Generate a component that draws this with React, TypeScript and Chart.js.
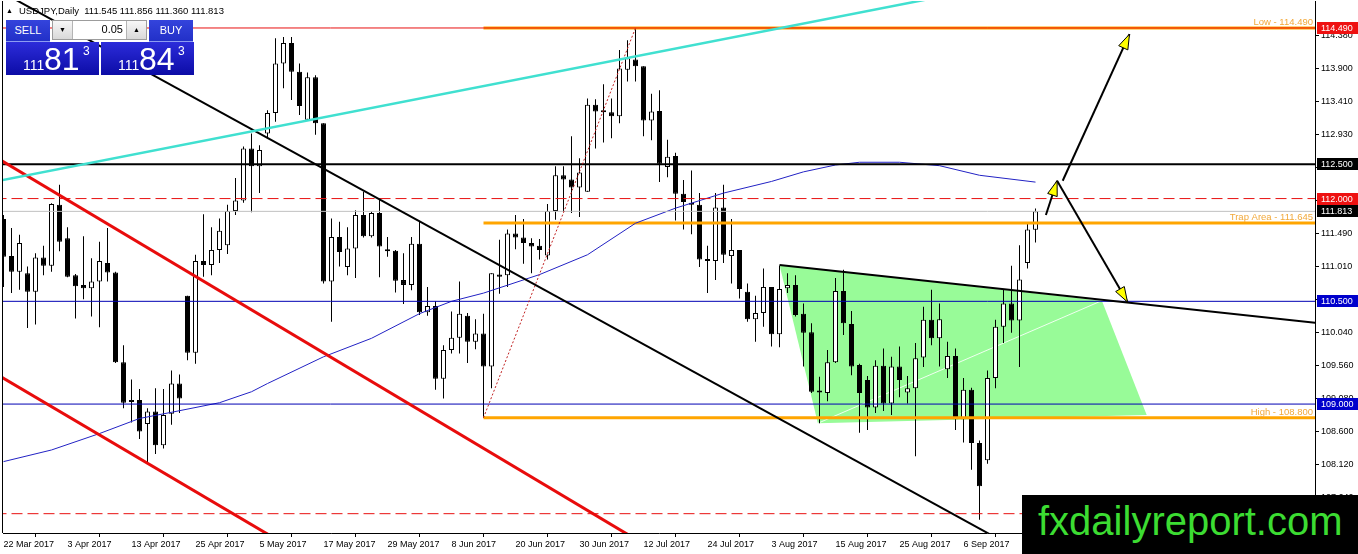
import { useEffect, useRef } from "react";
import { Chart, registerables } from "chart.js";

Chart.register(...registerables);

// daily USDJPY candles, 22 Mar 2017 .. 19 Sep 2017
const candleOpen = [
  111.70, 111.16, 110.93, 110.91, 110.64, 111.14, 111.02, 111.91, 111.42, 110.88,
  110.74, 110.69, 110.79, 111.06, 110.92, 109.61, 109.03, 109.06, 108.71, 108.89,
  108.40, 108.86, 109.30, 110.58, 109.75, 111.09, 111.03, 111.25, 111.32, 111.82,
  111.97, 112.73, 112.47, 112.95, 113.25, 113.97, 114.27, 113.85, 113.15, 113.77,
  113.10, 110.79, 111.44, 111.00, 111.27, 111.76, 111.45, 111.79, 111.25, 111.24,
  110.81, 110.74, 111.34, 110.34, 110.43, 109.37, 109.79, 109.97, 110.29, 109.91,
  110.03, 109.55, 110.89, 110.88, 111.49, 111.43, 111.35, 111.31, 111.17, 111.82,
  112.34, 112.28, 112.16, 112.10, 113.37, 113.28, 113.26, 113.20, 113.88, 114.03,
  113.93, 113.14, 113.28, 112.46, 112.62, 112.07, 111.94, 111.91, 111.11, 111.09,
  111.87, 111.16, 111.25, 110.64, 110.24, 110.33, 110.71, 110.02, 110.69, 110.74,
  110.32, 110.05, 109.18, 109.16, 109.61, 110.65, 110.17, 109.57, 109.35, 108.95,
  109.56, 109.01, 109.55, 109.17, 109.23, 109.68, 110.23, 109.96, 109.51, 109.70,
  108.78, 109.21, 108.43, 108.18, 109.38, 110.13, 110.47, 110.22, 111.06, 111.545,
];
const candleHigh = [
  111.76, 111.57, 111.47, 111.01, 111.20, 111.31, 111.93, 112.20, 111.58, 110.90,
  111.45, 111.13, 111.37, 111.57, 110.93, 109.86, 109.36, 109.22, 108.94, 109.23,
  109.22, 109.49, 109.43, 110.58, 111.18, 111.77, 111.58, 111.71, 111.91, 112.30,
  112.76, 112.95, 112.78, 113.29, 114.34, 114.36, 114.36, 113.97, 113.84, 113.80,
  113.10, 111.71, 111.66, 111.58, 111.83, 112.10, 111.81, 112.00, 111.44, 111.25,
  111.20, 111.44, 111.66, 110.71, 110.50, 109.86, 110.35, 110.79, 110.33, 110.24,
  110.32, 110.91, 111.40, 111.55, 111.76, 111.70, 111.42, 111.41, 111.92, 112.47,
  112.47, 112.91, 112.59, 113.46, 113.45, 113.67, 113.46, 114.17, 114.31, 114.49,
  113.93, 113.53, 113.58, 112.86, 112.67, 112.27, 112.41, 112.08, 111.31, 112.08,
  112.20, 111.70, 111.25, 110.76, 110.58, 110.98, 110.71, 111.02, 110.91, 110.88,
  110.47, 110.18, 109.40, 109.79, 110.84, 110.96, 110.36, 109.59, 109.41, 109.64,
  109.81, 109.69, 109.84, 109.41, 109.89, 110.42, 110.67, 110.47, 109.91, 109.81,
  109.38, 109.24, 108.47, 109.49, 110.23, 110.68, 111.02, 111.32, 111.65, 111.856,
];
const candleLow = [
  110.71, 110.62, 110.67, 110.11, 110.16, 110.88, 110.93, 111.23, 110.85, 110.25,
  110.53, 110.28, 110.12, 110.79, 109.60, 108.94, 108.73, 108.49, 108.14, 108.27,
  108.35, 108.70, 108.87, 109.64, 109.59, 110.86, 110.88, 111.06, 111.19, 111.76,
  111.94, 111.80, 112.08, 112.88, 113.12, 113.61, 113.44, 113.22, 113.15, 112.93,
  110.76, 110.20, 111.01, 110.88, 110.84, 111.43, 111.43, 110.85, 111.15, 110.63,
  110.46, 110.66, 110.30, 110.29, 109.21, 109.08, 109.74, 109.74, 109.60, 109.80,
  108.80, 109.23, 110.61, 110.71, 111.26, 111.05, 110.91, 111.11, 111.11, 111.69,
  111.81, 111.79, 111.73, 112.10, 112.73, 112.82, 112.88, 113.10, 113.71, 113.71,
  112.91, 112.85, 112.24, 112.31, 111.68, 111.55, 111.48, 111.00, 110.62, 110.81,
  111.06, 110.76, 110.54, 110.20, 109.91, 110.13, 109.84, 109.83, 110.62, 110.28,
  109.55, 109.16, 108.72, 109.04, 109.60, 110.01, 109.42, 108.58, 108.62, 108.87,
  108.90, 108.84, 109.10, 109.01, 108.24, 109.54, 109.86, 109.55, 109.38, 108.62,
  108.44, 108.04, 107.31, 108.13, 109.23, 109.89, 110.04, 109.54, 110.98, 111.36,
];
const candleClose = [
  111.15, 110.93, 111.35, 110.64, 111.14, 111.02, 111.92, 111.37, 110.86, 110.72,
  110.69, 110.79, 111.09, 110.92, 109.61, 109.02, 109.06, 108.60, 108.89, 108.40,
  108.84, 109.30, 109.08, 109.75, 111.09, 111.03, 111.25, 111.53, 111.82, 111.97,
  112.73, 112.47, 112.71, 113.25, 113.97, 114.27, 113.85, 113.35, 113.77, 113.10,
  110.79, 111.44, 111.22, 111.27, 111.76, 111.45, 111.79, 111.30, 111.23, 110.80,
  110.74, 111.34, 110.34, 110.43, 109.37, 109.79, 109.97, 110.32, 109.91, 110.03,
  109.55, 110.91, 110.86, 111.49, 111.43, 111.35, 111.30, 111.25, 111.82, 112.34,
  112.28, 112.16, 112.38, 113.37, 113.27, 113.26, 113.20, 113.90, 114.05, 113.93,
  113.14, 113.27, 112.51, 112.61, 112.07, 111.95, 111.91, 111.11, 111.09, 111.87,
  111.18, 111.25, 110.68, 110.24, 110.33, 110.71, 110.02, 110.68, 110.74, 110.30,
  110.04, 109.18, 109.17, 109.61, 110.65, 110.18, 109.55, 109.16, 108.95, 109.56,
  109.01, 109.55, 109.35, 109.23, 109.67, 110.23, 109.96, 110.24, 109.70, 108.78,
  109.21, 108.43, 107.80, 109.38, 110.13, 110.47, 110.22, 110.82, 111.55, 111.813,
];

const dateTicks = [
  "22 Mar 2017", "3 Apr 2017", "13 Apr 2017", "25 Apr 2017", "5 May 2017", "17 May 2017",
  "29 May 2017", "8 Jun 2017", "20 Jun 2017", "30 Jun 2017", "12 Jul 2017", "24 Jul 2017",
  "3 Aug 2017", "15 Aug 2017", "25 Aug 2017", "6 Sep 2017",
];
const barsPerDateTick = 8;

const priceTicks = [
  114.38, 113.9, 113.41, 112.93, 112.45, 111.97, 111.49, 111.01,
  110.53, 110.04, 109.56, 109.08, 108.6, 108.12, 107.64,
];

// moving average, sampled along its path
const maBars = [0, 6, 12, 17, 21, 27, 31, 33, 40, 46, 52, 56, 60, 67, 73, 79, 84, 90, 96, 100, 104, 107, 112, 117, 122, 129];
const maValues = [
  108.16, 108.33, 108.57, 108.79, 108.88, 109.02, 109.18, 109.30, 109.69, 109.96, 110.32, 110.50, 110.62,
  110.89, 111.18, 111.64, 111.86, 112.08, 112.25, 112.39, 112.49, 112.53, 112.53, 112.48, 112.34, 112.24,
];

// horizontal levels
const levelResistance = 114.49;
const levelPivot = 112.5;
const levelDashTop = 112.0;
const levelBid = 111.813;
const levelAsk = 111.843;
const levelTrap = 111.645;
const levelBlueTop = 110.5;
const levelBlueBottom = 109.0;
const levelHigh = 108.8;
const levelDashBottom = 107.4;
const zoneStartBar = 60;
const lotSize = 0.05;

// drawn objects as [bar, price] pairs
const cyanTrend = [[-0.5, 112.26], [116, 114.92]];
const blackTrend = [[0, 115.0], [125, 106.99]];
const redChannelTop = [[-0.5, 112.57], [80, 106.96]];
const redChannelBottom = [[-0.5, 109.41], [35, 106.965]];
const dottedSwing = [[60, 108.8], [79, 114.49]];
const wedgeTop = [[97, 111.03], [165, 110.175]];
const trapZone = [[97, 111.03], [137.3, 110.51], [142.9, 108.84], [101.8, 108.72]];
const arrowSmall = [[130.3, 111.76], [131.7, 112.26]];
const arrowUp = [[132.4, 112.26], [140.75, 114.4]];
const arrowDown = [[131.7, 112.26], [140.5, 110.49]];

const uiFont = '"Liberation Sans", Arial, sans-serif';
const X_MIN = -0.0625;
const X_MAX = 163.9375;

const pts = (arr: number[][]) => arr.map(([x, y]) => ({ x, y }));
const hLine = (price: number, from = -1) => pts([[from, price], [X_MAX + 1, price]]);

const lineDs = (data: any[], color: string, width: number, extra: any = {}) => ({
  type: "line",
  data,
  borderColor: color,
  borderWidth: width,
  pointRadius: 0,
  fill: false,
  tension: 0,
  clip: 0,
  order: 2,
  ...extra,
});

const framePlugin = {
  id: "frame",
  beforeDatasetsDraw(chart: any) {
    const { ctx, chartArea } = chart;
    ctx.save();
    ctx.strokeStyle = "#000";
    ctx.lineWidth = 1;
    ctx.beginPath();
    ctx.moveTo(chartArea.left - 0.5, chartArea.top);
    ctx.lineTo(chartArea.left - 0.5, chartArea.bottom);
    ctx.stroke();
    // symbol header
    const n = candleClose.length - 1;
    const ohlc = [candleOpen[n], candleHigh[n], candleLow[n], candleClose[n]].map((v) => v.toFixed(3)).join(" ");
    ctx.fillStyle = "#000";
    ctx.font = `7px ${uiFont}`;
    ctx.fillText("\u25B2", 6, 13);
    ctx.font = `9.5px ${uiFont}`;
    ctx.fillText(`USDJPY,Daily  ${ohlc}`, 19, 14);
    ctx.restore();
  },
};

const overlayPlugin = {
  id: "overlay",
  afterDatasetsDraw(chart: any) {
    const { ctx, chartArea, scales } = chart;
    const xs = scales.x;
    const ys = scales.y;
    ctx.save();
    // level captions
    ctx.font = `9.5px ${uiFont}`;
    ctx.fillStyle = "#f2a93b";
    ctx.textAlign = "right";
    ctx.textBaseline = "alphabetic";
    const captions: [number, string][] = [
      [levelResistance, "Low"],
      [levelTrap, "Trap Area"],
      [levelHigh, "High"],
    ];
    for (const [v, name] of captions) {
      ctx.fillText(`${name} - ${v.toFixed(3)}`, chartArea.right - 2, ys.getPixelForValue(v) - 3);
    }
    // arrow heads
    for (const seg of [arrowSmall, arrowUp, arrowDown]) {
      const x0 = xs.getPixelForValue(seg[0][0]);
      const y0 = ys.getPixelForValue(seg[0][1]);
      const x1 = xs.getPixelForValue(seg[1][0]);
      const y1 = ys.getPixelForValue(seg[1][1]);
      const a = Math.atan2(y1 - y0, x1 - x0);
      const len = 15;
      const half = 5;
      const bx = x1 - len * Math.cos(a);
      const by = y1 - len * Math.sin(a);
      ctx.beginPath();
      ctx.moveTo(x1, y1);
      ctx.lineTo(bx - half * Math.sin(a), by + half * Math.cos(a));
      ctx.lineTo(bx + half * Math.sin(a), by - half * Math.cos(a));
      ctx.closePath();
      ctx.fillStyle = "#ffff00";
      ctx.fill();
      ctx.strokeStyle = "#000";
      ctx.lineWidth = 1;
      ctx.stroke();
    }
    ctx.restore();
  },
  afterDraw(chart: any) {
    const { ctx, chartArea, scales, width } = chart;
    const ys = scales.y;
    const marks: [number, string][] = [
      [levelResistance, "#ee1111"],
      [levelPivot, "#000000"],
      [levelDashTop, "#ee1111"],
      [levelBid, "#000000"],
      [levelBlueTop, "#0000cc"],
      [levelBlueBottom, "#0000cc"],
    ];
    ctx.save();
    ctx.font = `9px ${uiFont}`;
    ctx.textBaseline = "middle";
    ctx.textAlign = "left";
    for (const [v, color] of marks) {
      const y = Math.round(ys.getPixelForValue(v));
      ctx.fillStyle = color;
      ctx.fillRect(chartArea.right + 2, y - 6, width - chartArea.right - 2, 12);
      ctx.fillStyle = "#fff";
      ctx.fillText(v.toFixed(3), chartArea.right + 6, y + 0.5);
    }
    ctx.restore();
  },
};

function PriceBox({ left, value }: { left: number; value: number }) {
  const s = value.toFixed(3);
  return (
    <div
      style={{
        position: "absolute",
        left,
        top: 42,
        width: 93,
        height: 33,
        background: "linear-gradient(#2c2cda, #0c0ca6)",
        color: "#fff",
        fontFamily: uiFont,
      }}
    >
      <span style={{ position: "absolute", left: 17, top: 16, fontSize: 14, lineHeight: 1 }}>{s.slice(0, 3)}</span>
      <span style={{ position: "absolute", left: 38, top: 1, fontSize: 32, lineHeight: 1 }}>{s.slice(4, 6)}</span>
      <span style={{ position: "absolute", left: 77, top: 3, fontSize: 12, lineHeight: 1 }}>{s.slice(6)}</span>
    </div>
  );
}

function TradePanel() {
  const btn: any = {
    position: "absolute",
    top: 20,
    width: 44,
    height: 22,
    boxSizing: "border-box",
    background: "linear-gradient(#3444dc, #2230c8)",
    borderBottom: "1px solid #8d9cf2",
    color: "#fff",
    fontSize: 11,
    lineHeight: "20px",
    textAlign: "center",
  };
  const spin: any = {
    position: "absolute",
    top: 0,
    width: 19,
    height: 18,
    background: "linear-gradient(#f7f7f7, #d9d9d9)",
    fontSize: 7,
    lineHeight: "18px",
    textAlign: "center",
    color: "#000",
  };
  return (
    <div style={{ position: "absolute", left: 0, top: 0, fontFamily: uiFont }}>
      <div style={{ ...btn, left: 6 }}>SELL</div>
      <div
        style={{
          position: "absolute",
          left: 52,
          top: 20,
          width: 95,
          height: 20,
          boxSizing: "border-box",
          border: "1px solid #9c9c9c",
          background: "#fff",
        }}
      >
        <div style={{ ...spin, left: 0, borderRight: "1px solid #b4b4b4" }}>{"\u25BC"}</div>
        <div style={{ position: "absolute", right: 23, top: 3, fontSize: 11, lineHeight: 1, color: "#000" }}>
          {lotSize.toFixed(2)}
        </div>
        <div style={{ ...spin, right: 0, borderLeft: "1px solid #b4b4b4" }}>{"\u25B2"}</div>
      </div>
      <div style={{ ...btn, left: 149 }}>BUY</div>
      <PriceBox left={6} value={levelBid} />
      <PriceBox left={101} value={levelAsk} />
    </div>
  );
}

export default function App() {
  const canvasRef = useRef<HTMLCanvasElement>(null);

  useEffect(() => {
    if (!canvasRef.current) return;

    const wicks = candleHigh.map((h, i) => ({ x: i, y: [candleLow[i], h] }));
    const bodies = candleOpen.map((o, i) => ({
      x: i,
      y: [Math.min(o, candleClose[i]), Math.max(o, candleClose[i])],
    }));
    const bodyColors = candleOpen.map((o, i) => (candleClose[i] >= o ? "#ffffff" : "#000000"));

    const datasets: any[] = [
      lineDs(pts([...trapZone, trapZone[0]]), "rgba(0,0,0,0)", 1, {
        fill: "shape",
        backgroundColor: "#98fb98",
        order: 20,
      }),
      lineDs(pts([trapZone[3], trapZone[1]]), "rgba(255,255,255,0.85)", 1, { order: 19 }),
      {
        type: "bar",
        data: wicks,
        backgroundColor: "#000",
        barThickness: 1,
        grouped: false,
        inflateAmount: 0,
        order: 11,
      },
      {
        type: "bar",
        data: bodies,
        backgroundColor: bodyColors,
        borderColor: "#000",
        borderWidth: 1,
        borderSkipped: false,
        barThickness: 5,
        minBarLength: 2,
        grouped: false,
        inflateAmount: 0,
        order: 10,
      },
      // horizontal levels
      lineDs(hLine(levelResistance, zoneStartBar), "#ffa500", 3, { order: 4 }),
      lineDs(hLine(levelTrap, zoneStartBar), "#ffa500", 3, { order: 4 }),
      lineDs(hLine(levelHigh, zoneStartBar), "#ffa500", 3, { order: 4 }),
      lineDs(hLine(levelResistance), "#e81010", 1, { order: 3 }),
      lineDs(hLine(levelPivot), "#000000", 2, { order: 3 }),
      lineDs(hLine(levelDashTop), "#e81010", 1, { borderDash: [11, 5], order: 3 }),
      lineDs(hLine(levelDashBottom), "#e81010", 1, { borderDash: [11, 5], order: 3 }),
      lineDs(hLine(levelBid), "#c0c0c0", 1, { order: 3 }),
      lineDs(hLine(levelBlueTop), "#0000b4", 1, { order: 3 }),
      lineDs(hLine(levelBlueBottom), "#0000b4", 1, { order: 3 }),
      // moving average
      lineDs(maBars.map((b, i) => ({ x: b, y: maValues[i] })), "#2222c4", 1, { order: 3 }),
      // trend lines
      lineDs(pts(cyanTrend), "#40e0d0", 2.5),
      lineDs(pts(blackTrend), "#000000", 2),
      lineDs(pts(redChannelTop), "#e80c0c", 3),
      lineDs(pts(redChannelBottom), "#e80c0c", 3),
      lineDs(pts(dottedSwing), "#c02020", 1, { borderDash: [2, 2] }),
      lineDs(pts(wedgeTop), "#000000", 2),
      lineDs(pts(arrowSmall), "#000000", 2, { order: 1 }),
      lineDs(pts(arrowUp), "#000000", 2, { order: 1 }),
      lineDs(pts(arrowDown), "#000000", 2, { order: 1 }),
    ];

    const axisFont = { family: uiFont, size: 9 };

    const chart = new Chart(canvasRef.current, {
      type: "bar",
      data: { datasets },
      options: {
        animation: false,
        responsive: true,
        maintainAspectRatio: false,
        devicePixelRatio: 1,
        events: [],
        layout: { padding: { left: 3, top: 1, right: 0, bottom: 0 } },
        plugins: { legend: { display: false }, tooltip: { enabled: false } },
        scales: {
          x: {
            type: "linear",
            min: X_MIN,
            max: X_MAX,
            offset: false,
            grid: { drawOnChartArea: false, drawTicks: true, tickLength: 4, color: "#000" },
            border: { display: true, color: "#000", width: 1 },
            ticks: {
              autoSkip: false,
              maxRotation: 0,
              align: "start",
              padding: 2,
              color: "#000",
              font: axisFont,
              callback: (v: any) => dateTicks[Math.round(Number(v) / barsPerDateTick)] ?? "",
            },
            afterBuildTicks: (axis: any) => {
              axis.ticks = dateTicks.map((_, k) => ({ value: k * barsPerDateTick }));
            },
            afterFit: (axis: any) => {
              axis.height = 21;
              axis.paddingLeft = 0;
              axis.paddingRight = 0;
            },
          },
          y: {
            type: "linear",
            position: "right",
            min: 107.118,
            max: 114.884,
            grid: { drawOnChartArea: false, drawTicks: true, tickLength: 4, color: "#000" },
            border: { display: true, color: "#000", width: 1 },
            ticks: {
              padding: 2,
              color: "#000",
              font: axisFont,
              callback: (v: any) => Number(v).toFixed(3),
            },
            afterBuildTicks: (axis: any) => {
              axis.ticks = priceTicks.map((value) => ({ value }));
            },
            afterFit: (axis: any) => {
              axis.width = 43;
              axis.paddingTop = 0;
              axis.paddingBottom = 0;
            },
          },
        },
      } as any,
      plugins: [framePlugin, overlayPlugin],
    } as any);

    return () => chart.destroy();
  }, []);

  return (
    <div style={{ position: "fixed", left: 0, top: 0, width: 1358, height: 554, background: "#fff", overflow: "hidden" }}>
      <div style={{ position: "absolute", left: 0, top: 0, width: 1358, height: 554 }}>
        <canvas ref={canvasRef} />
      </div>
      <TradePanel />
      <div style={{ position: "absolute", left: 1022, top: 495, width: 336, height: 59, background: "#000" }}>
        <span
          style={{
            position: "absolute",
            left: 16,
            top: 6,
            fontSize: 40,
            lineHeight: 1,
            color: "#3cdc32",
            fontFamily: uiFont,
            whiteSpace: "nowrap",
          }}
        >
          fxdailyreport.com
        </span>
      </div>
    </div>
  );
}
